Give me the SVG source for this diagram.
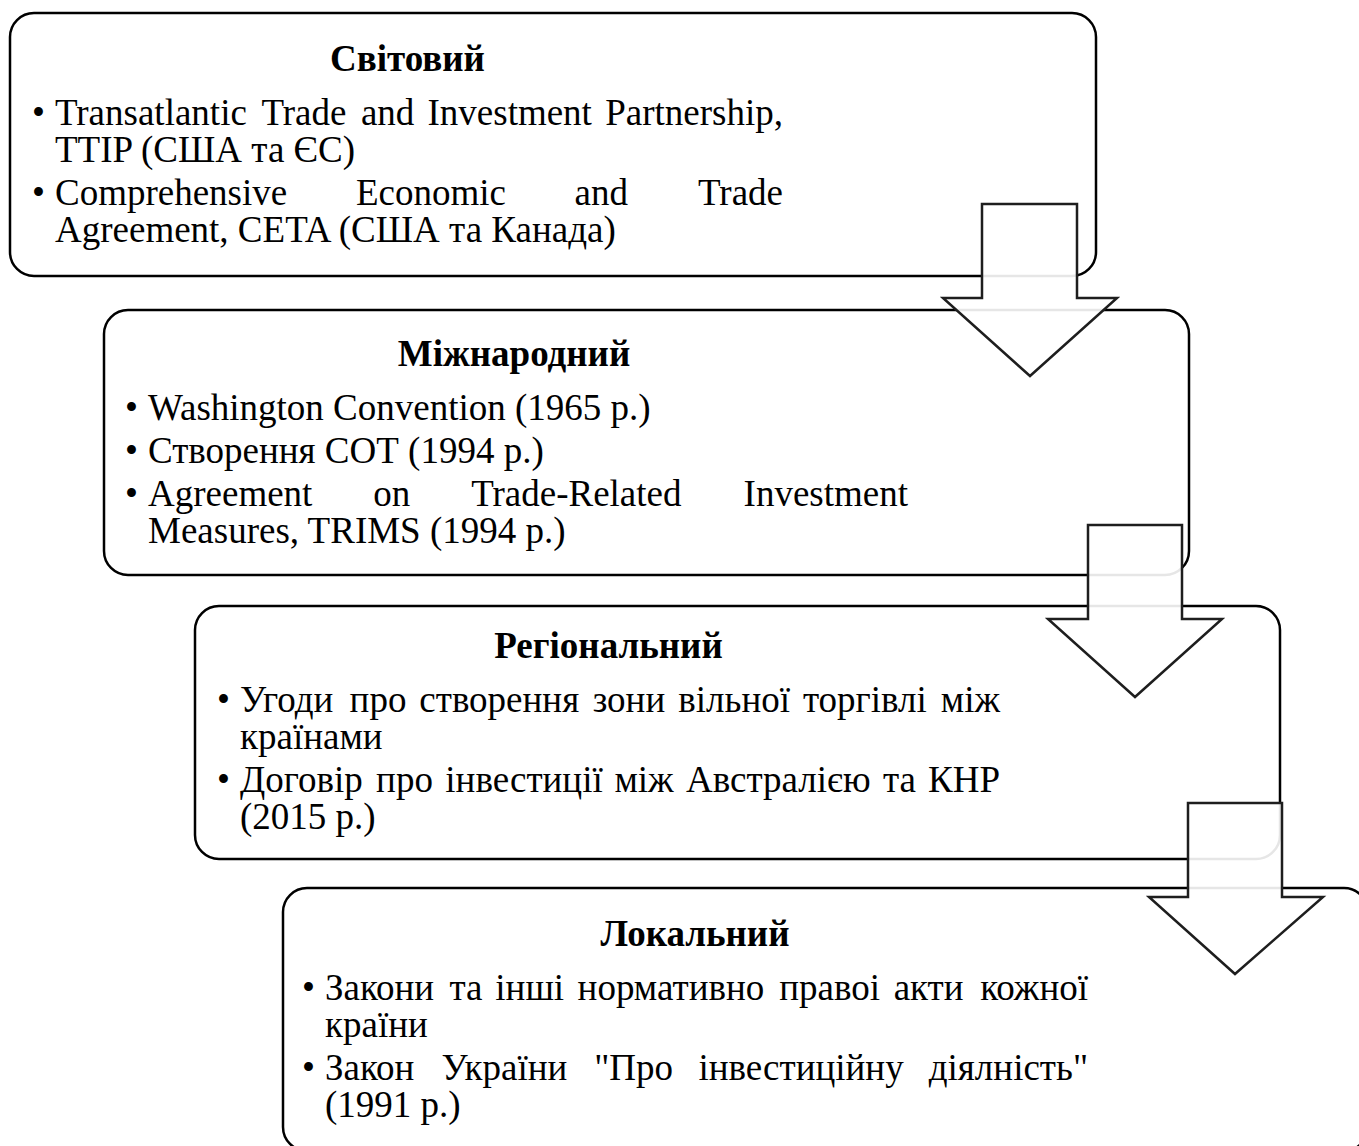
<svg xmlns="http://www.w3.org/2000/svg" width="1359" height="1146" viewBox="0 0 1359 1146">
<style>
.box{fill:#ffffff;stroke:#000000;stroke-width:2.5}
.arr{fill:#ffffff;fill-opacity:0.9;stroke:#1e1e1e;stroke-width:2.5;stroke-linejoin:miter}
text{font-family:"Liberation Serif","Times New Roman",serif;font-size:37px;fill:#000000}
.t{font-weight:bold;text-anchor:middle}
.e{text-anchor:end}
</style>
<rect width="1359" height="1146" fill="#ffffff"/>
<g id="node-svitovyi">
<rect class="box" x="10" y="13" width="1086" height="263" rx="24" ry="24"/>
<text class="t" x="407.5" y="71">Світовий</text>
<text x="32" y="125">•</text>
<text y="125"><tspan x="55">Transatlantic</tspan><tspan x="261.4">Trade</tspan><tspan x="360.9">and</tspan><tspan x="427.5">Investment</tspan></text>
<text class="e" x="783" y="125">Partnership,</text>
<text x="55" y="162">TTIP (США та ЄС)</text>
<text x="32" y="205">•</text>
<text y="205"><tspan x="55">Comprehensive</tspan><tspan x="355.9">Economic</tspan><tspan x="574.6">and</tspan></text>
<text class="e" x="783" y="205">Trade</text>
<text x="55" y="242">Agreement, CETA (США та Канада)</text>
</g>
<g id="node-mizhnarodnyi">
<rect class="box" x="104" y="310" width="1085" height="265" rx="24" ry="24"/>
<text class="t" x="514" y="366">Міжнародний</text>
<text x="125" y="420">•</text>
<text x="148" y="420">Washington Convention (1965 р.)</text>
<text x="125" y="463">•</text>
<text x="148" y="463">Створення СОТ (1994 р.)</text>
<text x="125" y="506">•</text>
<text y="506"><tspan x="148">Agreement</tspan><tspan x="373.3">on</tspan><tspan x="471.2">Trade-Related</tspan></text>
<text class="e" x="908" y="506">Investment</text>
<text x="148" y="543">Measures, TRIMS (1994 р.)</text>
</g>
<g id="node-rehionalnyi">
<rect class="box" x="195" y="606" width="1085" height="253" rx="24" ry="24"/>
<text class="t" x="608.5" y="658">Регіональний</text>
<text x="217" y="712">•</text>
<text y="712"><tspan x="240">Угоди</tspan><tspan x="349.6">про</tspan><tspan x="419.3">створення</tspan><tspan x="592.7">зони</tspan><tspan x="678.3">вільної</tspan><tspan x="802.9">торгівлі</tspan></text>
<text class="e" x="1000" y="712">між</text>
<text x="240" y="749">країнами</text>
<text x="217" y="792">•</text>
<text y="792"><tspan x="240">Договір</tspan><tspan x="376.1">про</tspan><tspan x="445.3">інвестиції</tspan><tspan x="614.4">між</tspan><tspan x="686.1">Австралією</tspan><tspan x="882.9">та</tspan></text>
<text class="e" x="1000" y="792">КНР</text>
<text x="240" y="829">(2015 р.)</text>
</g>
<g id="node-lokalnyi">
<rect class="box" x="283" y="888" width="1085" height="263" rx="24" ry="24"/>
<text class="t" x="695" y="946">Локальний</text>
<text x="302" y="1000">•</text>
<text y="1000"><tspan x="325">Закони</tspan><tspan x="449.4">та</tspan><tspan x="495.3">інші</tspan><tspan x="577.6">нормативно</tspan><tspan x="779.3">правоі</tspan><tspan x="893.7">акти</tspan></text>
<text class="e" x="1088" y="1000">кожної</text>
<text x="325" y="1037">країни</text>
<text x="302" y="1080">•</text>
<text y="1080"><tspan x="325">Закон</tspan><tspan x="441.6">України</tspan><tspan x="594.2">"Про</tspan><tspan x="698.4">інвестиційну</tspan></text>
<text class="e" x="1088" y="1080">діялність"</text>
<text x="325" y="1117">(1991 р.)</text>
</g>
<g id="connectors">
<polygon class="arr" points="982,204 1077,204 1077,298 1117,298 1030,376 943,298 982,298"/>
<polygon class="arr" points="1088,525 1182,525 1182,619 1222,619 1135,697 1048,619 1088,619"/>
<polygon class="arr" points="1188,803 1282,803 1282,897 1323,897 1235,974 1149,897 1188,897"/>
</g>
</svg>
